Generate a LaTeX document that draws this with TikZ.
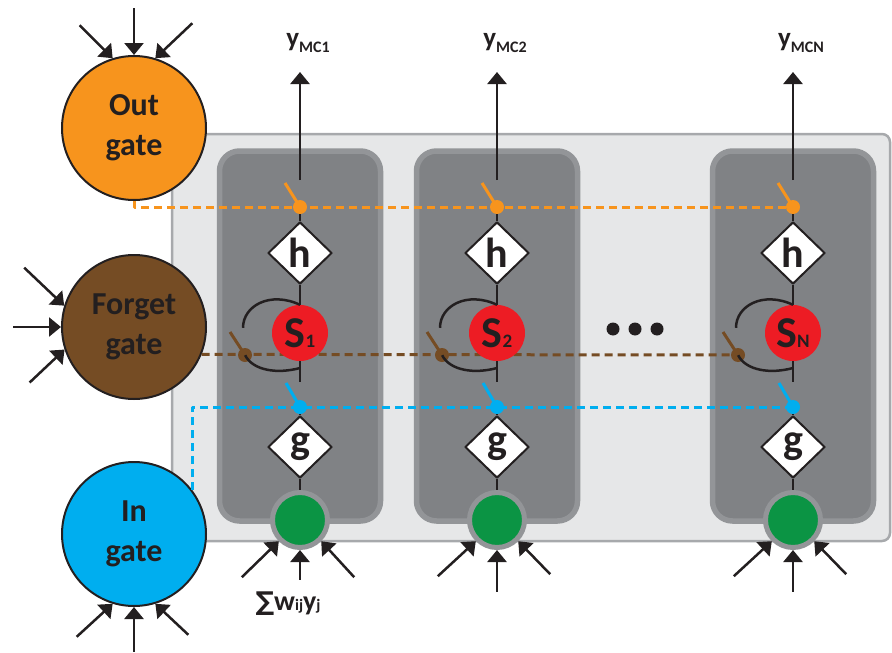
\documentclass[tikz,border=0pt]{standalone}
\usepackage{fontspec}
\setmainfont{Carlito}
\newfontfamily\symfont{DejaVu Sans}
\usetikzlibrary{arrows.meta,shapes.geometric}

\definecolor{outorange}{HTML}{F7941D}
\definecolor{forgetbrown}{HTML}{754C24}
\definecolor{inblue}{HTML}{00AEEF}
\definecolor{cellred}{HTML}{ED1C24}
\definecolor{inputgreen}{HTML}{0B9444}
\definecolor{panelgray}{HTML}{E6E7E8}
\definecolor{panelline}{HTML}{A7A9AC}
\definecolor{blockgray}{HTML}{808285}
\definecolor{blockline}{HTML}{939598}
\definecolor{ink}{HTML}{231F20}

\newcommand{\ylab}[1]{{\fontsize{27}{27}\selectfont y}\raisebox{-6pt}{\fontsize{16}{16}\selectfont #1}}
\newcommand{\cellsub}[1]{{\fontsize{19}{19}\selectfont #1}}

\begin{document}
\begin{tikzpicture}[
    x=1pt,
    y=-1pt,
    >={Triangle[length=12pt,width=19pt]},
    line join=round,
    every node/.style={font=\bfseries, text=ink},
    panel/.style={draw=panelline, line width=2.5pt, fill=panelgray, rounded corners=8pt},
    block/.style={draw=blockline, line width=5.5pt, fill=blockgray, rounded corners=20pt},
    gate/.style={circle, draw=ink, line width=2pt, minimum size=144pt, inner sep=0pt, align=center, font=\bfseries\fontsize{32}{40}\selectfont},
    squash/.style={diamond, draw=ink, line width=2pt, fill=white, minimum width=64pt, minimum height=62pt, inner sep=0pt, font=\bfseries\fontsize{42}{42}\selectfont},
    cec/.style={circle, fill=cellred, minimum size=56pt, inner sep=0pt, font=\bfseries\fontsize{44}{44}\selectfont},
    netin/.style={circle, draw=blockline, line width=5pt, fill=inputgreen, minimum size=55pt, inner sep=0pt},
    switchdot/.style={circle, fill=#1, minimum size=14pt, inner sep=0pt},
    wire/.style={draw=ink, line width=2.5pt},
    feed/.style={wire, <-},
    recur/.style={draw=ink, line width=2.5pt},
    lever/.style={draw=#1, line width=3pt},
    odash/.style={draw=outorange, line width=3pt, dash pattern=on 8pt off 5pt},
    fdash/.style={draw=forgetbrown, line width=3pt, dash pattern=on 8pt off 5pt},
    idash/.style={draw=inblue, line width=3pt, dash pattern=on 8pt off 5pt}
]

\useasboundingbox (0,0) rectangle (892,653);

\draw[panel] (172,134) rectangle (890,541);
\draw[block] (219.5,151) rectangle (380.5,521);
\draw[block] (416.5,151) rectangle (577.5,521);
\draw[block] (712.5,151) rectangle (873.5,521);

\node[gate, fill=outorange] (outgate) at (134,128) {Out\\gate};
\node[gate, fill=forgetbrown] (forgetgate) at (134,327) {Forget\\gate};
\node[gate, fill=inblue] (ingate) at (134,534) {In\\gate};

\node[switchdot=outorange] (o1) at (300,207) {};
\node[switchdot=outorange] (o2) at (497,207) {};
\node[switchdot=outorange] (oN) at (793,207) {};
\node[switchdot=forgetbrown] (f1) at (245,355) {};
\node[switchdot=forgetbrown] (f2) at (442,355) {};
\node[switchdot=forgetbrown] (fN) at (738,355) {};
\node[switchdot=inblue] (i1) at (300,407) {};
\node[switchdot=inblue] (i2) at (497,407) {};
\node[switchdot=inblue] (iN) at (793,407) {};

\draw[odash] (outgate.south) |- (oN);
\draw[fdash] (forgetgate.-22.6) -- (fN);
\draw[idash] (ingate.37) |- (iN);

\node[squash] (h1) at (300,253) {h};
\node[squash] (h2) at (497,253) {h};
\node[squash] (hN) at (793,253) {h};
\node[cec] (s1) at (300,333) {S\cellsub{1}};
\node[cec] (s2) at (497,333) {S\cellsub{2}};
\node[cec] (sN) at (793,333) {S\cellsub{N}};
\node[squash] (g1) at (300,447) {g};
\node[squash] (g2) at (497,447) {g};
\node[squash] (gN) at (793,447) {g};
\node[netin] (c1) at (300,520) {};
\node[netin] (c2) at (497,520) {};
\node[netin] (cN) at (793,520) {};

\coordinate (t1) at (300,180);
\coordinate (t2) at (497,180);
\coordinate (tN) at (793,180);
\coordinate (u1) at (300,72);
\coordinate (u2) at (497,72);
\coordinate (uN) at (793,72);
\coordinate (b1) at (300,382);
\coordinate (b2) at (497,382);
\coordinate (bN) at (793,382);

\draw[wire, ->] (t1) -- (u1);
\draw[wire, ->] (t2) -- (u2);
\draw[wire, ->] (tN) -- (uN);

\draw[wire] (o1) -- (h1);
\draw[wire] (h1) -- (s1);
\draw[wire] (s1) -- (b1);
\draw[wire] (i1) -- (g1);
\draw[wire] (g1) -- (c1);
\draw[wire] (o2) -- (h2);
\draw[wire] (h2) -- (s2);
\draw[wire] (s2) -- (b2);
\draw[wire] (i2) -- (g2);
\draw[wire] (g2) -- (c2);
\draw[wire] (oN) -- (hN);
\draw[wire] (hN) -- (sN);
\draw[wire] (sN) -- (bN);
\draw[wire] (iN) -- (gN);
\draw[wire] (gN) -- (cN);

\draw[recur] (s1.north) .. controls +(-30,-14) and +(0,-22) .. ++(-57,23);
\draw[recur] (f1.center) .. controls +(8,16) and +(-22,6) .. ++(55,13);
\draw[recur] (s2.north) .. controls +(-30,-14) and +(0,-22) .. ++(-57,23);
\draw[recur] (f2.center) .. controls +(8,16) and +(-22,6) .. ++(55,13);
\draw[recur] (sN.north) .. controls +(-30,-14) and +(0,-22) .. ++(-57,23);
\draw[recur] (fN.center) .. controls +(8,16) and +(-22,6) .. ++(55,13);

\draw[lever=outorange] (o1.center) -- ++(-15,-24);
\draw[lever=outorange] (o2.center) -- ++(-15,-24);
\draw[lever=outorange] (oN.center) -- ++(-15,-24);
\draw[lever=forgetbrown] (f1.center) -- ++(-15,-23);
\draw[lever=forgetbrown] (f2.center) -- ++(-15,-23);
\draw[lever=forgetbrown] (fN.center) -- ++(-15,-23);
\draw[lever=inblue] (i1.center) -- ++(-14,-24);
\draw[lever=inblue] (i2.center) -- ++(-14,-24);
\draw[lever=inblue] (iN.center) -- ++(-14,-24);

\draw[feed] (c1.-135) -- ++(-37,36);
\draw[feed] (c1.-90) -- ++(0,30);
\draw[feed] (c1.-45) -- ++(33,36);
\draw[feed] (c2.-135) -- ++(-38,35);
\draw[feed] (c2.-90) -- ++(0,42);
\draw[feed] (c2.-45) -- ++(32,33);
\draw[feed] (cN.-135) -- ++(-38,35);
\draw[feed] (cN.-90) -- ++(0,42);
\draw[feed] (cN.-45) -- ++(32,33);

\draw[feed] (outgate.107) -- ++(-33,-33);
\draw[feed] (outgate.90) -- ++(0,-47);
\draw[feed] (outgate.73) -- ++(37,-35);
\draw[feed] (forgetgate.163) -- ++(-40,-38);
\draw[feed] (forgetgate.180) -- ++(-48,0);
\draw[feed] (forgetgate.198) -- ++(-35,33);
\draw[feed] (ingate.-107) -- ++(-36,33);
\draw[feed] (ingate.-90) -- ++(0,45);
\draw[feed] (ingate.-73) -- ++(33,31);

\fill[ink] (613,329) circle[radius=6.5];
\fill[ink] (635,329) circle[radius=6.5];
\fill[ink] (657,329) circle[radius=6.5];

\node[anchor=base] (y1) at (308,46) {\ylab{MC1}};
\node[anchor=base] (y2) at (505,46) {\ylab{MC2}};
\node[anchor=base] (yN) at (801,46) {\ylab{MCN}};
\node[anchor=base] (sum1) at (288,610) {{\symfont\fontsize{26}{26}\selectfont ∑}{\fontsize{28}{28}\selectfont w}{\fontsize{16}{16}\selectfont ij}{\fontsize{28}{28}\selectfont y}{\fontsize{16}{16}\selectfont j}};

\end{tikzpicture}
\end{document}
